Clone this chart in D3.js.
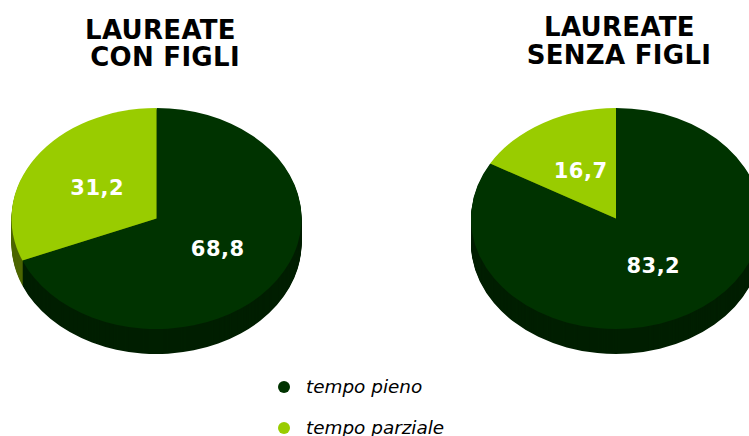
<!DOCTYPE html>
<html>
<head>
<meta charset="utf-8">
<script src="https://cdn.jsdelivr.net/npm/d3@7/dist/d3.min.js"></script>
<style>
	html, body { margin: 0; padding: 0; background: #fff; overflow: hidden; }
	text { font-family: "DejaVu Sans", sans-serif; }
</style>
</head>
<body>
<div id="chart"></div>
<script>
(function(){
	'use strict';

	var categories = ['tempo pieno', 'tempo parziale'];
	var conFigli = [68.8, 31.2];
	var senzaFigli = [83.2, 16.7];
	var titleConFigli = ['LAUREATE', 'CON FIGLI'];
	var titleSenzaFigli = ['LAUREATE', 'SENZA FIGLI'];

	var width = 749, height = 436;
	var radius = 145, squash = 110.5 / 145, depth = 25;

	var topColor = d3.scaleOrdinal().domain(categories).range(['#003300', '#99cc00']);
	var sideColor = d3.scaleOrdinal().domain(categories).range(['#001f00', '#4d6600']);

	var pie = d3.pie().sort(null).value(function(d) { return d.value; });
	var arc = d3.arc().innerRadius(0).outerRadius(radius);

	var svg = d3.select('#chart').append('svg')
		.attr('width', width)
		.attr('height', height);

	drawPie(156.5, 218.5, conFigli, titleConFigli, { x: 160.5, y: 38.5, nudge: 4.5 });
	drawPie(616, 218.5, senzaFigli, titleSenzaFigli, { x: 619.5, y: 36, nudge: -0.5 });
	drawLegend();

	function drawPie(cx, cy, values, title, titlePos) {
		var slices = pie(values.map(function(v, i) {
			return { label: categories[i], value: v };
		}));
		var g = svg.append('g');

		// side wall: the same slices stacked downwards in the darker colour
		d3.range(depth, 0, -1).forEach(function(offset) {
			g.append('g')
				.attr('transform', 'translate(' + cx + ',' + (cy + offset) + ') scale(1,' + squash + ')')
				.selectAll('path')
				.data(slices)
				.enter().append('path')
				.attr('d', arc)
				.attr('fill', function(d) { return sideColor(d.data.label); });
		});

		g.append('g')
			.attr('transform', 'translate(' + cx + ',' + cy + ') scale(1,' + squash + ')')
			.selectAll('path')
			.data(slices)
			.enter().append('path')
			.attr('d', arc)
			.attr('fill', function(d) { return topColor(d.data.label); });

		g.selectAll('text.value')
			.data(slices)
			.enter().append('text')
			.attr('class', 'value')
			.attr('x', function(d) { return cx + arc.centroid(d)[0] + 1; })
			.attr('y', function(d) { return cy + arc.centroid(d)[1] * squash - 0.5; })
			.attr('dy', '0.36em')
			.attr('text-anchor', 'middle')
			.attr('fill', '#fff')
			.attr('font-weight', 'bold')
			.attr('font-size', 21)
			.attr('letter-spacing', 0.5)
			.text(function(d) { return String(d.value).replace('.', ','); });

		svg.selectAll(null)
			.data(title)
			.enter().append('text')
			.attr('x', function(d, i) { return titlePos.x + (i ? titlePos.nudge : 0); })
			.attr('y', function(d, i) { return titlePos.y + i * 27.5; })
			.attr('text-anchor', 'middle')
			.attr('font-weight', 'bold')
			.attr('font-size', 26)
			.attr('letter-spacing', 0.3)
			.attr('fill', '#000')
			.text(function(d) { return d; });
	}

	function drawLegend() {
		var y = d3.scalePoint().domain(categories).range([387, 428]);
		var item = svg.selectAll('g.legend')
			.data(categories)
			.enter().append('g')
			.attr('class', 'legend')
			.attr('transform', function(d) { return 'translate(284,' + y(d) + ')'; });

		item.append('circle')
			.attr('r', 6)
			.attr('fill', function(d) { return topColor(d); });

		item.append('text')
			.attr('x', 22)
			.attr('dy', '0.31em')
			.attr('font-style', 'italic')
			.attr('font-size', 18.4)
			.attr('fill', '#000')
			.text(function(d) { return d; });
	}
})();
</script>
</body>
</html>
